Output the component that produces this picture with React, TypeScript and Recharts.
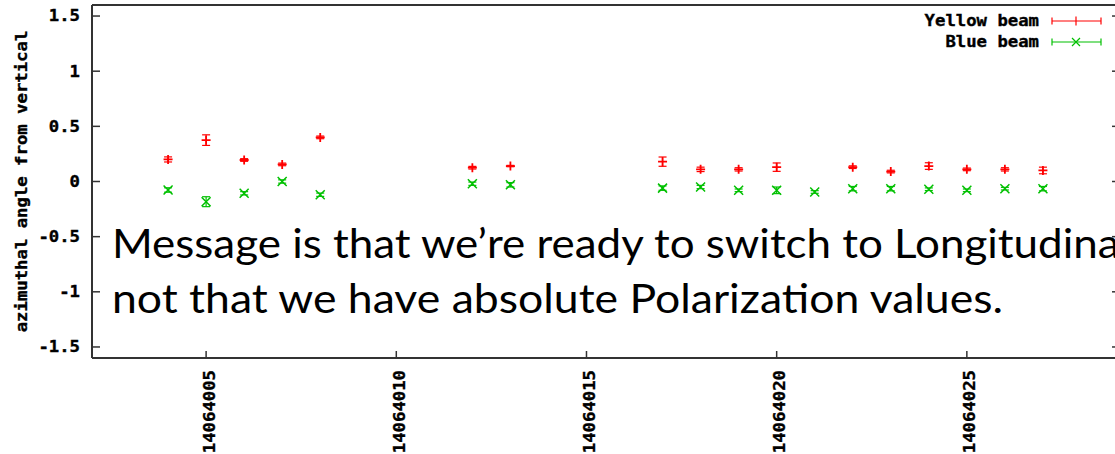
import React from 'react';
import { ScatterChart, Scatter, XAxis, YAxis, ErrorBar, ReferenceLine, Legend } from 'recharts';

// ---- data ----
const yellowRuns = [14064004, 14064005, 14064006, 14064007, 14064008, 14064012, 14064013, 14064017, 14064018, 14064019, 14064020, 14064022, 14064023, 14064024, 14064025, 14064026, 14064027];
const yellowAngle = [0.2, 0.375, 0.195, 0.155, 0.4, 0.125, 0.14, 0.18, 0.11, 0.11, 0.13, 0.13, 0.09, 0.14, 0.11, 0.11, 0.1];
const yellowErr = [0.023, 0.048, 0.012, 0.012, 0.012, 0.012, 0.006, 0.042, 0.02, 0.015, 0.038, 0.012, 0.012, 0.03, 0.012, 0.015, 0.03];

const blueRuns = [14064004, 14064005, 14064006, 14064007, 14064008, 14064012, 14064013, 14064017, 14064018, 14064019, 14064020, 14064021, 14064022, 14064023, 14064024, 14064025, 14064026, 14064027];
const blueAngle = [-0.077, -0.183, -0.107, 0.0, -0.12, -0.02, -0.03, -0.06, -0.05, -0.08, -0.08, -0.095, -0.065, -0.065, -0.07, -0.08, -0.065, -0.065];
const blueErr = [0.02, 0.045, 0.015, 0.015, 0.015, 0.015, 0.02, 0.02, 0.015, 0.012, 0.03, 0.012, 0.02, 0.02, 0.012, 0.012, 0.012, 0.02];

const seriesNames = ['Yellow beam', 'Blue beam'];
const xTicks = [14064005, 14064010, 14064015, 14064020, 14064025];
const yTicks = [-1.5, -1, -0.5, 0, 0.5, 1, 1.5];
const xDomain = [14064002, 14064029];
const yDomain = [-1.6, 1.6];
const yAxisTitle = 'azimuthal angle from vertical';
const messageLines = [
  'Message is that we\u2019re ready to switch to Longitudinal',
  'not that we have absolute Polarization values.',
];

const yellowData = yellowRuns.map((run, i) => ({ run, angle: yellowAngle[i], err: yellowErr[i] }));
const blueData = blueRuns.map((run, i) => ({ run, angle: blueAngle[i], err: blueErr[i] }));

// ---- styles ----
const RED = '#ff0000';
const GREEN = '#00c000';
const AXIS = '#333333';
const MONO = '"DejaVu Sans Mono", "Liberation Mono", monospace';
const CHAR_W = 10.4;

const monoText = (s: string) => ({
  fontFamily: MONO,
  fontWeight: 700 as const,
  fontSize: 15,
  fill: '#000',
  stroke: '#000',
  strokeWidth: 0.35,
  textLength: s.length * CHAR_W,
  lengthAdjust: 'spacingAndGlyphs' as const,
});

const LeftTick = (props: any) => {
  const { x, y, payload } = props;
  const s = String(payload.value);
  return (
    <g>
      <line x1={x} y1={y} x2={x + 8} y2={y} stroke={AXIS} strokeWidth={1.5} />
      <text x={x - 12} y={y} dy="0.36em" textAnchor="end" {...monoText(s)}>{s}</text>
    </g>
  );
};

const RightTick = (props: any) => {
  const { x, y } = props;
  return <line x1={x} y1={y} x2={x - 7} y2={y} stroke={AXIS} strokeWidth={1.5} />;
};

const BottomTick = (props: any) => {
  const { x, y, payload } = props;
  const s = String(payload.value);
  const tx = x + 3;
  const ty = y + 12;
  return (
    <g>
      <line x1={x} y1={y} x2={x} y2={y - 7} stroke={AXIS} strokeWidth={1.5} />
      <text x={tx} y={ty} dy="0.36em" textAnchor="end" transform={`rotate(-90 ${tx} ${ty})`} {...monoText(s)}>{s}</text>
    </g>
  );
};

const YTitle = (props: any) => {
  const vb = props.viewBox || { x: 12, y: 5, width: 80, height: 353 };
  const cx = vb.x + 10;
  const cy = vb.y + vb.height / 2;
  return (
    <text x={cx} y={cy} dy="0.36em" textAnchor="middle" transform={`rotate(-90 ${cx} ${cy})`} {...monoText(yAxisTitle)}>
      {yAxisTitle}
    </text>
  );
};

const PlusShape = (props: any) => {
  const { cx, cy } = props;
  if (cx == null || cy == null) return null;
  const r = 4.5;
  return <path d={`M${cx - r},${cy}H${cx + r}M${cx},${cy - r}V${cy + r}`} stroke={RED} strokeWidth={1.8} fill="none" />;
};

const CrossShape = (props: any) => {
  const { cx, cy } = props;
  if (cx == null || cy == null) return null;
  const r = 4.5;
  return <path d={`M${cx - r},${cy - r}L${cx + r},${cy + r}M${cx - r},${cy + r}L${cx + r},${cy - r}`} stroke={GREEN} strokeWidth={1.5} fill="none" />;
};

const LegendContent = () => {
  const colors = [RED, GREEN];
  return (
    <svg width={1130} height={56} style={{ display: 'block', overflow: 'visible' }}>
      {seriesNames.map((name, i) => {
        const y = 21 + i * 21;
        const c = colors[i];
        const x0 = 1052, x1 = 1101, xm = 1076;
        return (
          <g key={name}>
            <text x={1039} y={y} dy="0.36em" textAnchor="end" {...monoText(name)}>{name}</text>
            <line x1={x0} y1={y} x2={x1} y2={y} stroke={c} strokeWidth={1.2} />
            <line x1={x0} y1={y - 3.5} x2={x0} y2={y + 3.5} stroke={c} strokeWidth={1.2} />
            <line x1={x1} y1={y - 3.5} x2={x1} y2={y + 3.5} stroke={c} strokeWidth={1.2} />
            {i === 0 ? (
              <line x1={xm} y1={y - 4.5} x2={xm} y2={y + 4.5} stroke={c} strokeWidth={1.2} />
            ) : (
              <path d={`M${xm - 4},${y - 4}L${xm + 4},${y + 4}M${xm - 4},${y + 4}L${xm + 4},${y - 4}`} stroke={c} strokeWidth={1.2} fill="none" />
            )}
          </g>
        );
      })}
    </svg>
  );
};

export default function App() {
  return (
    <div style={{ position: 'fixed', left: 0, top: 0, width: 1115, height: 454, overflow: 'hidden', background: '#fff' }}>
      <ScatterChart width={1130} height={454} margin={{ top: 5, right: 10, left: 12, bottom: 0 }}>
        <XAxis
          dataKey="run"
          type="number"
          domain={xDomain}
          allowDataOverflow
          ticks={xTicks}
          interval={0}
          height={96}
          axisLine={false}
          tickLine={false}
          tickSize={0}
          tickMargin={0}
          tick={<BottomTick />}
        />
        <YAxis
          dataKey="angle"
          type="number"
          domain={yDomain}
          allowDataOverflow
          ticks={yTicks}
          interval={0}
          width={80}
          axisLine={false}
          tickLine={false}
          tickSize={0}
          tickMargin={0}
          tick={<LeftTick />}
          label={<YTitle />}
        />
        <YAxis
          yAxisId="right"
          orientation="right"
          type="number"
          domain={yDomain}
          allowDataOverflow
          ticks={yTicks}
          interval={0}
          width={1}
          axisLine={false}
          tickLine={false}
          tickSize={0}
          tickMargin={0}
          tick={<RightTick />}
        />
        <ReferenceLine y={yDomain[1]} stroke={AXIS} strokeWidth={2} ifOverflow="visible" />
        <ReferenceLine y={yDomain[0]} stroke={AXIS} strokeWidth={2} ifOverflow="visible" />
        <ReferenceLine x={xDomain[0]} stroke={AXIS} strokeWidth={2} ifOverflow="visible" />
        <Legend
          layout="vertical"
          align="center"
          verticalAlign="middle"
          wrapperStyle={{ top: 0, left: 0, width: 1130, height: 56 }}
          content={<LegendContent />}
        />
        <Scatter name={seriesNames[0]} data={yellowData} shape={<PlusShape />} isAnimationActive={false}>
          <ErrorBar dataKey="err" direction="y" width={4} stroke={RED} strokeWidth={1.2} isAnimationActive={false} />
        </Scatter>
        <Scatter name={seriesNames[1]} data={blueData} shape={<CrossShape />} isAnimationActive={false}>
          <ErrorBar dataKey="err" direction="y" width={4} stroke={GREEN} strokeWidth={1.2} isAnimationActive={false} />
        </Scatter>
      </ScatterChart>
      <svg width={1115} height={454} style={{ position: 'absolute', left: 0, top: 0, pointerEvents: 'none' }}>
        <text x={112} y={258} fontFamily="Lato, 'Open Sans', sans-serif" fontSize={40} fill="#000" textLength={1018} lengthAdjust="spacingAndGlyphs">
          {messageLines[0]}
        </text>
        <text x={112} y={313} fontFamily="Lato, 'Open Sans', sans-serif" fontSize={40} fill="#000" textLength={891} lengthAdjust="spacingAndGlyphs">
          {messageLines[1]}
        </text>
      </svg>
    </div>
  );
}
